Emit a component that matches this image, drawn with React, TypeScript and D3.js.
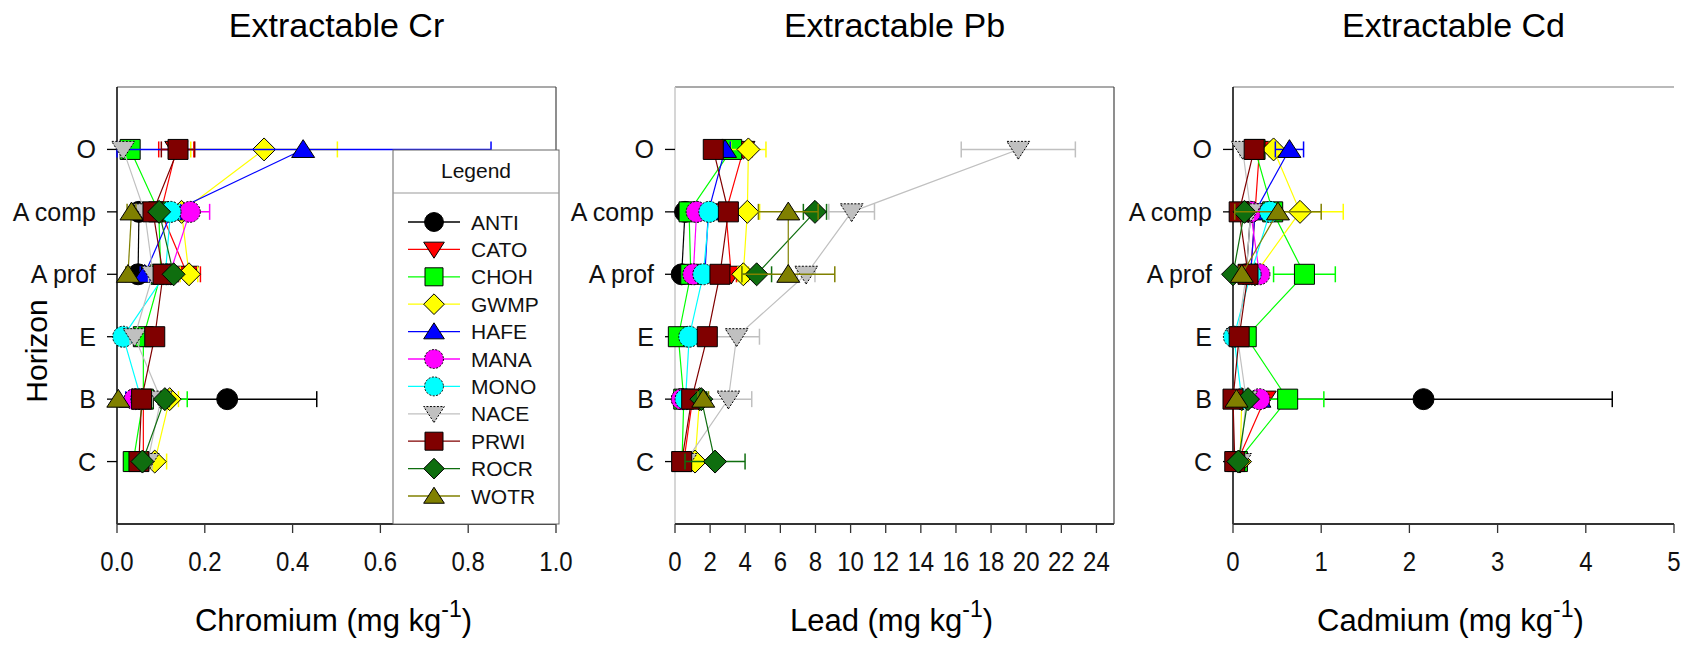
import React from "react";
import * as d3 from "d3";

// ---------- DATA ----------
const horizons = ["O", "A comp", "A prof", "E", "B", "C"];
const sites = ["ANTI", "CATO", "CHOH", "GWMP", "HAFE", "MANA", "MONO", "NACE", "PRWI", "ROCR", "WOTR"];
const siteColors = ["#000000", "#FF0000", "#00FF00", "#FFFF00", "#0000FF", "#FF00FF", "#00FFFF", "#C0C0C0", "#800000", "#0F6E0F", "#808000"];
const siteShapes = ["circle", "down", "square", "diamond", "up", "circle", "circle", "down", "square", "diamond", "up"];
const siteDotted = [false, false, false, false, false, true, true, true, false, false, false];

type V = number | null;

// Chromium (mg/kg), rows = sites, cols = horizons
const crMeans: V[][] = [
  [null, 0.05, 0.048, null, 0.251, null],
  [0.135, 0.1, 0.16, null, 0.06, 0.06],
  [0.03, 0.095, 0.1, 0.06, 0.06, 0.037],
  [0.335, 0.147, 0.164, null, 0.12, 0.086],
  [0.424, 0.125, 0.063, null, 0.03, null],
  [null, 0.166, 0.12, null, 0.04, null],
  [null, 0.122, 0.11, 0.014, 0.055, null],
  [0.014, 0.063, 0.082, 0.04, 0.1, 0.07],
  [0.139, 0.082, 0.105, 0.086, 0.056, 0.05],
  [null, 0.096, 0.129, null, 0.109, 0.058],
  [null, 0.033, 0.025, null, 0.003, null],
];
const crErrs: number[][] = [
  [0, 0.01, 0.01, 0, 0.204, 0],
  [0.04, 0.02, 0.03, 0, 0.01, 0.01],
  [0.01, 0.02, 0.02, 0.01, 0.1, 0.01],
  [0.167, 0.03, 0.02, 0, 0.02, 0.027],
  [0.428, 0.02, 0.01, 0, 0.01, 0],
  [0, 0.045, 0.02, 0, 0.01, 0],
  [0, 0.02, 0.02, 0.005, 0.01, 0],
  [0.005, 0.01, 0.01, 0.01, 0.02, 0.01],
  [0.038, 0.01, 0.01, 0.01, 0.01, 0.01],
  [0, 0.01, 0.01, 0, 0.01, 0.01],
  [0, 0.01, 0.005, 0, 0.002, 0],
];

// Lead (mg/kg)
const pbMeans: V[][] = [
  [null, 0.57, 0.38, null, 0.4, null],
  [3.9, 2.9, 3.2, null, 1.0, 0.5],
  [3.23, 0.8, 0.9, 0.19, 0.5, 0.4],
  [4.18, 4.12, 3.89, null, 1.4, 1.14],
  [2.85, 1.9, 1.7, null, 0.8, null],
  [null, 1.23, 1.04, null, 0.38, null],
  [null, 1.95, 1.61, 0.81, 0.6, null],
  [19.55, 10.06, 7.47, 3.51, 3.04, 0.6],
  [2.18, 3.04, 2.56, 1.84, 0.95, 0.38],
  [null, 7.97, 4.65, null, 1.5, 2.28],
  [null, 6.45, 6.45, null, 1.61, null],
];
const pbErrs: number[][] = [
  [0, 0.1, 0.1, 0, 0.1, 0],
  [0.5, 0.3, 0.3, 0, 0.2, 0.1],
  [0.3, 0.1, 0.1, 0.1, 0.1, 0.1],
  [1.0, 0.7, 0.3, 0, 0.2, 0.1],
  [0.3, 0.2, 0.2, 0, 0.1, 0],
  [0, 0.2, 0.1, 0, 0.1, 0],
  [0, 0.2, 0.2, 0.1, 0.1, 0],
  [3.25, 1.3, 0.5, 1.3, 1.33, 0.1],
  [0.2, 0.3, 0.2, 0.2, 0.1, 0.1],
  [0, 0.66, 0.85, 0, 0.3, 1.71],
  [0, 1.7, 2.65, 0, 0.3, 0],
];

// Cadmium (mg/kg)
const cdMeans: V[][] = [
  [null, 0.2, 0.15, null, 2.16, null],
  [0.3, 0.25, 0.2, null, 0.36, 0.05],
  [0.25, 0.45, 0.81, 0.15, 0.62, 0.05],
  [0.46, 0.76, 0.25, null, 0.1, 0.08],
  [0.64, 0.25, 0.2, null, 0.3, null],
  [null, 0.2, 0.3, null, 0.3, null],
  [null, 0.42, 0.2, 0.01, 0.1, null],
  [0.11, 0.2, 0.15, 0.05, 0.15, 0.08],
  [0.24, 0.07, 0.17, 0.07, 0.0, 0.02],
  [null, 0.13, 0.0, null, 0.17, 0.06],
  [null, 0.51, 0.1, null, 0.04, null],
];
const cdErrs: number[][] = [
  [0, 0.05, 0.05, 0, 2.14, 0],
  [0.05, 0.05, 0.05, 0, 0.05, 0.02],
  [0.05, 0.05, 0.35, 0.02, 0.41, 0.02],
  [0.05, 0.49, 0.05, 0, 0.02, 0.02],
  [0.16, 0.05, 0.05, 0, 0.05, 0],
  [0, 0.05, 0.05, 0, 0.05, 0],
  [0, 0.05, 0.05, 0.01, 0.02, 0],
  [0.03, 0.03, 0.03, 0.02, 0.03, 0.02],
  [0.05, 0.03, 0.03, 0.02, 0.01, 0.01],
  [0, 0.05, 0.02, 0, 0.05, 0.02],
  [0, 0.49, 0.03, 0, 0.02, 0],
];

const crTicks = [0, 0.2, 0.4, 0.6, 0.8, 1.0];
const pbTicks = [0, 2, 4, 6, 8, 10, 12, 14, 16, 18, 20, 22, 24];
const cdTicks = [0, 1, 2, 3, 4, 5];

const panelTitles = ["Extractable Cr", "Extractable Pb", "Extractable Cd"];
const axisNames = ["Chromium", "Lead", "Cadmium"];

// ---------- LAYOUT ----------
const W = 1688;
const H = 648;
const yTop = 87;
const yBot = 524;
const FONT = "'Liberation Sans', Arial, sans-serif";

const panels = [
  { x0: 117, x1: 556, domain: [0, 1], ticks: crTicks, fmt: d3.format(".1f"), means: crMeans, errs: crErrs, left: "#000", right: true, topColor: "#555" },
  { x0: 675, x1: 1114, domain: [0, 25], ticks: pbTicks, fmt: d3.format("d"), means: pbMeans, errs: pbErrs, left: "#c8c8c8", right: true, topColor: "#555" },
  { x0: 1233, x1: 1674, domain: [0, 5], ticks: cdTicks, fmt: d3.format("d"), means: cdMeans, errs: cdErrs, left: "#000", right: false, topColor: "#777" },
];

const yScale = d3.scaleLinear().domain([0, 7]).range([yTop, yBot]);

// custom symbol types
const symUp = {
  draw(ctx: any, size: number) {
    const a = Math.sqrt(size);
    ctx.moveTo(0, -0.85 * a);
    ctx.lineTo(a, 0.7 * a);
    ctx.lineTo(-a, 0.7 * a);
    ctx.closePath();
  },
};
const symDown = {
  draw(ctx: any, size: number) {
    const a = Math.sqrt(size);
    ctx.moveTo(0, 0.85 * a);
    ctx.lineTo(a, -0.7 * a);
    ctx.lineTo(-a, -0.7 * a);
    ctx.closePath();
  },
};
const symDiamond = {
  draw(ctx: any, size: number) {
    const a = Math.sqrt(size);
    ctx.moveTo(0, -a);
    ctx.lineTo(a, 0);
    ctx.lineTo(0, a);
    ctx.lineTo(-a, 0);
    ctx.closePath();
  },
};

function symbolPath(shape: string, scale = 1): string {
  let gen;
  const k = scale * scale;
  if (shape === "circle") gen = d3.symbol(d3.symbolCircle, Math.PI * 110 * k);
  else if (shape === "square") gen = d3.symbol(d3.symbolSquare, 400 * k);
  else if (shape === "diamond") gen = d3.symbol(symDiamond as any, 132 * k);
  else if (shape === "up") gen = d3.symbol(symUp as any, 132 * k);
  else gen = d3.symbol(symDown as any, 132 * k);
  return gen() as string;
}

function Panel({ p, idx }: { p: any; idx: number }) {
  const x = d3.scaleLinear().domain(p.domain).range([p.x0, p.x1]);
  const cx = (p.x0 + p.x1) / 2;
  const line = d3
    .line<[number, V]>()
    .defined((d) => d[1] !== null)
    .x((d) => x(d[1] as number))
    .y((d) => yScale(d[0] + 1));

  return (
    <g>
      {/* frame */}
      <line x1={p.x0} x2={p.x1} y1={yTop} y2={yTop} stroke={p.topColor} strokeWidth={1.2} />
      {p.right && <line x1={p.x1} x2={p.x1} y1={yTop} y2={yBot} stroke="#444" strokeWidth={1.2} />}
      <line x1={p.x0} x2={p.x0} y1={yTop} y2={yBot} stroke={p.left} strokeWidth={1.5} />
      {/* y ticks */}
      {horizons.map((h, i) => (
        <g key={h}>
          <line x1={p.x0 - 10} x2={p.x0} y1={yScale(i + 1)} y2={yScale(i + 1)} stroke="#000" strokeWidth={1.3} />
          <text x={p.x0 - 21} y={yScale(i + 1) + 9} fontSize={25} textAnchor="end" fontFamily={FONT} fill="#111">
            {h}
          </text>
        </g>
      ))}
      {/* series */}
      {sites.map((s, si) => {
        const vals: V[] = p.means[si];
        const errs: number[] = p.errs[si];
        const color = siteColors[si];
        const pts = vals.map((v, i) => [i, v] as [number, V]);
        return (
          <g key={s}>
            <path d={line(pts) || ""} fill="none" stroke={color} strokeWidth={1.2} />
            {vals.map((v, i) => {
              if (v === null || !errs[i]) return null;
              const y = yScale(i + 1);
              const lo = x(Math.max(p.domain[0], v - errs[i]));
              const hi = x(v + errs[i]);
              return (
                <g key={"e" + i} stroke={color} strokeWidth={1.5}>
                  <line x1={lo} x2={hi} y1={y} y2={y} />
                  <line x1={lo} x2={lo} y1={y - 8} y2={y + 8} />
                  <line x1={hi} x2={hi} y1={y - 8} y2={y + 8} />
                </g>
              );
            })}
            {vals.map((v, i) =>
              v === null ? null : (
                <path
                  key={"m" + i}
                  d={symbolPath(siteShapes[si])}
                  transform={`translate(${x(v)},${yScale(i + 1)})`}
                  fill={color}
                  stroke="#000"
                  strokeWidth={1}
                  strokeDasharray={siteDotted[si] ? "2,1.5" : undefined}
                />
              )
            )}
          </g>
        );
      })}
      {/* bottom axis */}
      <line x1={p.x0} x2={p.x1} y1={yBot} y2={yBot} stroke="#333" strokeWidth={2.2} />
      {p.ticks.map((t: number) => (
        <g key={t}>
          <line x1={x(t)} x2={x(t)} y1={yBot} y2={yBot + 9} stroke="#333" strokeWidth={1.3} />
          <text
            transform={`translate(${x(t)},${yBot + 47}) scale(1,1.12)`}
            fontSize={24}
            textAnchor="middle"
            fontFamily={FONT}
            fill="#111"
          >
            {p.fmt(t)}
          </text>
        </g>
      ))}
      {/* titles */}
      <text x={cx} y={37} fontSize={34} textAnchor="middle" fontFamily={FONT} fill="#000">
        {panelTitles[idx]}
      </text>
      <text x={cx - 3} y={631} fontSize={31} textAnchor="middle" fontFamily={FONT} fill="#000">
        {axisNames[idx]} (mg kg
        <tspan fontSize={23} dy={-14}>-1</tspan>
        <tspan dy={14}>)</tspan>
      </text>
    </g>
  );
}

function Legend() {
  const lx0 = 393;
  const lx1 = 559;
  const ly0 = 150;
  const entryY0 = 222;
  const step = 27.4;
  return (
    <g>
      <rect x={lx0} y={ly0} width={lx1 - lx0} height={yBot - ly0} fill="#fff" stroke="#666" strokeWidth={1} />
      <line x1={lx0} x2={lx1} y1={193} y2={193} stroke="#999" strokeWidth={1} />
      <text x={(lx0 + lx1) / 2} y={178} fontSize={21} textAnchor="middle" fontFamily={FONT} fill="#111">
        Legend
      </text>
      {sites.map((s, i) => {
        const y = entryY0 + i * step;
        return (
          <g key={s}>
            <line x1={408} x2={460} y1={y} y2={y} stroke={siteColors[i]} strokeWidth={1.3} />
            <path
              d={symbolPath(siteShapes[i], 0.9)}
              transform={`translate(434,${y})`}
              fill={siteColors[i]}
              stroke="#000"
              strokeWidth={1}
              strokeDasharray={siteDotted[i] ? "2,1.5" : undefined}
            />
            <text x={471} y={y + 7.5} fontSize={21} fontFamily={FONT} fill="#111">
              {s}
            </text>
          </g>
        );
      })}
    </g>
  );
}

export default function App() {
  return (
    <div style={{ position: "absolute", left: 0, top: 0 }}>
      <svg width={W} height={H} viewBox={`0 0 ${W} ${H}`} style={{ display: "block", background: "#fff" }}>
        <rect x={0} y={0} width={W} height={H} fill="#fff" />
        <Panel p={panels[0]} idx={0} />
        <Legend />
        <Panel p={panels[1]} idx={1} />
        <Panel p={panels[2]} idx={2} />
        <text transform="translate(47,351) rotate(-90)" fontSize={30} textAnchor="middle" fontFamily={FONT} fill="#000">
          Horizon
        </text>
      </svg>
    </div>
  );
}
